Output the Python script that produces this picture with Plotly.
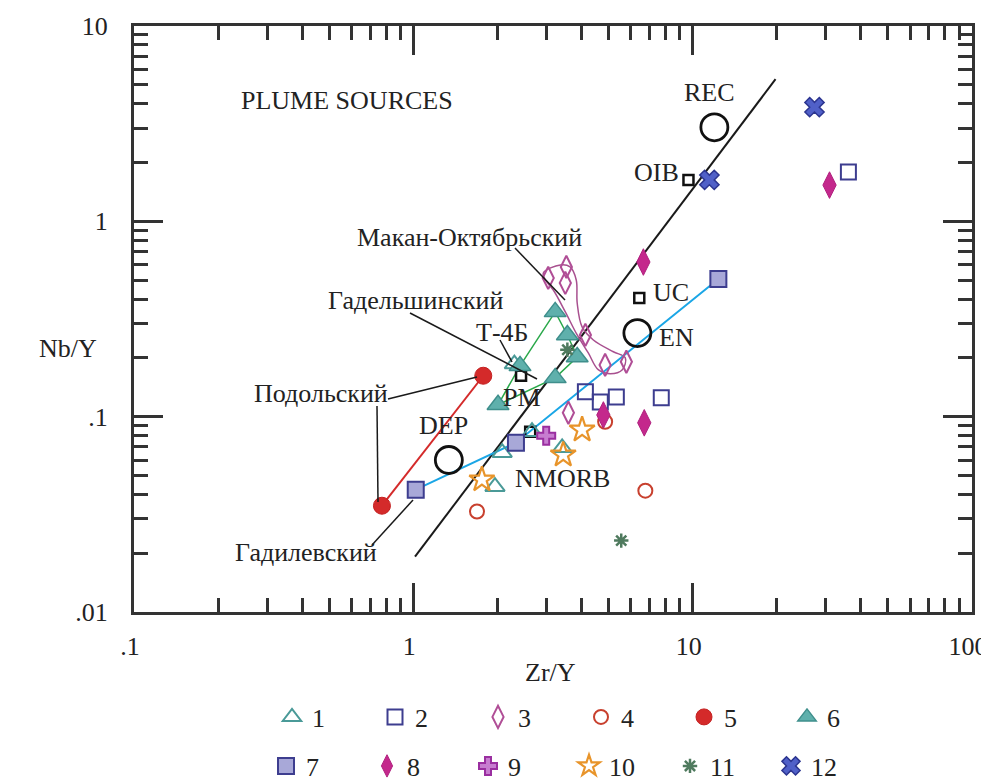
import math
import plotly.graph_objects as go

# ---------------- data (Zr/Y, Nb/Y) ----------------
s1_x = [2.30, 2.08, 1.96, 2.66, 3.41]
s1_y = [0.186, 0.0654, 0.0438, 0.0837, 0.0693]

s2_x = [36.1, 4.13, 4.67, 5.33, 7.72]
s2_y = [1.79, 0.134, 0.119, 0.126, 0.125]

s3_x = [3.04, 3.53, 3.50, 4.13, 4.86, 5.79, 3.59]
s3_y = [0.513, 0.584, 0.484, 0.262, 0.184, 0.191, 0.1047]

s4_x = [1.69, 4.86, 6.77]
s4_y = [0.0327, 0.0942, 0.0418]

s5_x = [0.772, 1.78]
s5_y = [0.035, 0.162]

s6_x = [2.01, 2.41, 3.22, 3.56, 3.86, 3.22]
s6_y = [0.115, 0.182, 0.344, 0.262, 0.202, 0.158]

s7_x = [1.02, 2.33, 12.36]
s7_y = [0.0423, 0.0736, 0.507]

s8_x = [30.9, 6.66, 4.79, 6.71]
s8_y = [1.533, 0.619, 0.102, 0.093]

s9_x = [2.99]
s9_y = [0.0798]

s10_x = [1.76, 3.44, 4.02]
s10_y = [0.0476, 0.0638, 0.0857]

s11_x = [3.56, 5.55]
s11_y = [0.22, 0.0232]

s12_x = [27.3, 11.48]
s12_y = [3.84, 1.63]

# reservoirs (big open circles) and reference compositions (small squares)
big_names = ["REC", "EN", "DEP"]
big_x = [11.96, 6.34, 1.34]
big_y = [3.03, 0.268, 0.060]

ref_names = ["OIB", "UC", "PM", "NMORB"]
ref_x = [9.66, 6.44, 2.43, 2.62]
ref_y = [1.63, 0.405, 0.162, 0.0837]

# array trend line
trend_x = [1.014, 19.8]
trend_y = [0.0192, 5.34]

# Макан-Октябрьский envelope
env_x = [2.92, 3.36, 3.64, 3.83, 3.86, 4.02, 4.41, 5.20, 5.74, 5.60, 5.07, 4.59, 4.23, 3.86, 3.50, 3.17, 2.97, 2.92]
env_y = [0.544, 0.598, 0.584, 0.501, 0.382, 0.288, 0.247, 0.215, 0.200, 0.174, 0.166, 0.174, 0.212, 0.262, 0.344, 0.445, 0.501, 0.544]

# Гадельшинский polygon order (indices into series 6)
s6_poly = [0, 1, 2, 3, 4, 5, 0]

x_tickvals = [0.1, 1, 10, 100]
x_ticktext = [".1", "1", "10", "100"]
y_tickvals = [0.01, 0.1, 1, 10]
y_ticktext = [".01", ".1", "1", "10"]

# ---------------- layout helpers (screen pixels, page has an 8px body margin) ----------------
OFF = 8
W, H = 989 - OFF, 783 - OFF
SL, SR, ST, SB = 134, 972, 26, 612          # plot area on screen
L, R, T, B = SL - OFF, SR - OFF, ST - OFF, SB - OFF
FONT = "Liberation Serif"
TXT = "#222222"
AX = "#333333"


def pxx(sx):
    return (sx - SL) / (SR - SL)


def pxy(sy):
    return (SB - sy) / (SB - ST)


def cx(sx):
    return (sx - OFF) / W


def cy(sy):
    return 1 - (sy - OFF) / H


minor_vals = [m * 10 ** e for e in range(-2, 2) for m in range(2, 10)]

fig = go.Figure()

# connecting lines
fig.add_trace(go.Scatter(x=trend_x, y=trend_y, mode="lines",
                         line=dict(color="#1a1a1a", width=2), showlegend=False, hoverinfo="skip"))
fig.add_trace(go.Scatter(x=env_x, y=env_y, mode="lines",
                         line=dict(color="#a8508f", width=1.5, shape="spline", smoothing=1.0),
                         showlegend=False, hoverinfo="skip"))
fig.add_trace(go.Scatter(x=[s6_x[i] for i in s6_poly], y=[s6_y[i] for i in s6_poly], mode="lines",
                         line=dict(color="#2aa84a", width=1.5), showlegend=False, hoverinfo="skip"))
fig.add_trace(go.Scatter(x=s5_x, y=s5_y, mode="lines",
                         line=dict(color="#d42a2a", width=2), showlegend=False, hoverinfo="skip"))
fig.add_trace(go.Scatter(x=s7_x, y=s7_y, mode="lines",
                         line=dict(color="#1aa6e6", width=2), showlegend=False, hoverinfo="skip"))

# reference compositions
fig.add_trace(go.Scatter(x=big_x, y=big_y, mode="markers", showlegend=False,
                         marker=dict(symbol="circle-open", size=27, line=dict(color="#111111", width=2.8),
                                     color="#111111")))
fig.add_trace(go.Scatter(x=ref_x, y=ref_y, mode="markers", showlegend=False,
                         marker=dict(symbol="square-open", size=10, color="#111111",
                                     line=dict(color="#111111", width=2.5))))

series = [
    ("1", s1_x, s1_y, dict(symbol="triangle-up-open", size=17, color="#4a9a98", line=dict(color="#4a9a98", width=2)), "legend"),
    ("2", s2_x, s2_y, dict(symbol="square-open", size=15, color="#3d3d8f", line=dict(color="#3d3d8f", width=2)), "legend"),
    ("3", s3_x, s3_y, dict(symbol="diamond-tall-open", size=16, color="#b04e96", line=dict(color="#b04e96", width=2)), "legend"),
    ("4", s4_x, s4_y, dict(symbol="circle-open", size=14, color="#c8402e", line=dict(color="#c8402e", width=2)), "legend"),
    ("5", s5_x, s5_y, dict(symbol="circle", size=17, color="#d42a2a", line=dict(color="#c42020", width=1)), "legend"),
    ("6", s6_x, s6_y, dict(symbol="triangle-up", size=19, color="#5fb0ac", line=dict(color="#3f8f8c", width=1.5)), "legend"),
    ("7", s7_x, s7_y, dict(symbol="square", size=16, color="#a8a8d8", line=dict(color="#3d3d8f", width=2)), "legend2"),
    ("8", s8_x, s8_y, dict(symbol="diamond-tall", size=19, color="#c4288c", line=dict(color="#b0207e", width=1)), "legend2"),
    ("9", s9_x, s9_y, dict(symbol="cross", size=15, color="#c77dd0", line=dict(color="#9a2fa0", width=2)), "legend2"),
    ("10", s10_x, s10_y, dict(symbol="star-open", size=19, color="#e8942a", line=dict(color="#e8942a", width=2.2)), "legend2"),
    ("11", s11_x, s11_y, dict(symbol="asterisk-open", size=12, color="#4f7a5e", line=dict(color="#4f7a5e", width=2.5)), "legend2"),
    ("12", s12_x, s12_y, dict(symbol="x", size=17, color="#5060c8", line=dict(color="#2c3590", width=1.5)), "legend2"),
]
for name, xs, ys, mk, lg in series:
    fig.add_trace(go.Scatter(x=xs, y=ys, mode="markers", name=name, marker=mk, legend=lg))

# ---------------- annotations ----------------
labels = [
    ("PLUME SOURCES", 347, 100),
    ("REC", 709, 92),
    ("OIB", 656, 173),
    ("UC", 671, 292),
    ("EN", 676, 337),
    ("PM", 522, 397),
    ("Т-4Б", 502, 332),
    ("DEP", 443, 426),
    ("NMORB", 562, 478),
    ("Макан-Октябрьский", 469, 237),
    ("Гадельшинский", 415, 300),
    ("Подольский", 321, 393),
    ("Гадилевский", 306, 552),
    ("Nb/Y", 68, 348),
    ("Zr/Y", 550, 673),
]
annotations = []
for t, x, y in labels:
    annotations.append(dict(text=t, xref="paper", yref="paper", x=pxx(x), y=pxy(y),
                            xanchor="center", yanchor="middle", showarrow=False,
                            font=dict(family=FONT, size=26, color=TXT)))

leaders = [
    ((515, 248), (565, 300)),
    ((410, 313), (537, 379)),
    ((500, 340), (512, 362)),
    ((388, 399), (477, 377)),
    ((377, 406), (378, 502)),
    ((372, 545), (413, 500)),
]
shapes = []
for (x0, y0), (x1, y1) in leaders:
    shapes.append(dict(type="line", xref="paper", yref="paper", x0=pxx(x0), y0=pxy(y0),
                       x1=pxx(x1), y1=pxy(y1), line=dict(color="#1a1a1a", width=1.5)))

axis_common = dict(
    type="log", showgrid=False, zeroline=False, showline=True, linewidth=3, linecolor=AX,
    mirror="allticks", ticks="inside", ticklen=29, tickwidth=2.5, tickcolor=AX,
    tickfont=dict(family=FONT, size=26, color=TXT), automargin=False, ticklabeloverflow="allow",
    minor=dict(tickvals=minor_vals, ticks="inside", ticklen=14, tickwidth=2.5, tickcolor=AX, showgrid=False),
)

legend_common = dict(orientation="h", xanchor="left", yanchor="middle", xref="container", yref="container",
                     entrywidthmode="pixels", itemsizing="trace", bgcolor="rgba(0,0,0,0)",
                     font=dict(family=FONT, size=26, color=TXT), traceorder="normal")

fig.update_layout(
    width=W, height=H,
    margin=dict(l=L, r=W - R, t=T, b=H - B, autoexpand=False),
    paper_bgcolor="white", plot_bgcolor="white",
    font=dict(family=FONT, size=26, color=TXT),
    xaxis=dict(range=[-1, 2], tickvals=x_tickvals, ticktext=x_ticktext, ticklabelstandoff=9,
               ticklabelshift=-4, **axis_common),
    yaxis=dict(range=[-2, 1], tickvals=y_tickvals, ticktext=y_ticktext, ticklabelstandoff=18, **axis_common),
    legend=dict(x=cx(272), y=cy(717), entrywidth=58, **legend_common),
    legend2=dict(x=cx(266), y=cy(766), entrywidth=56, **legend_common),
    annotations=annotations,
    shapes=shapes,
)

fig.write_html("out.html")
